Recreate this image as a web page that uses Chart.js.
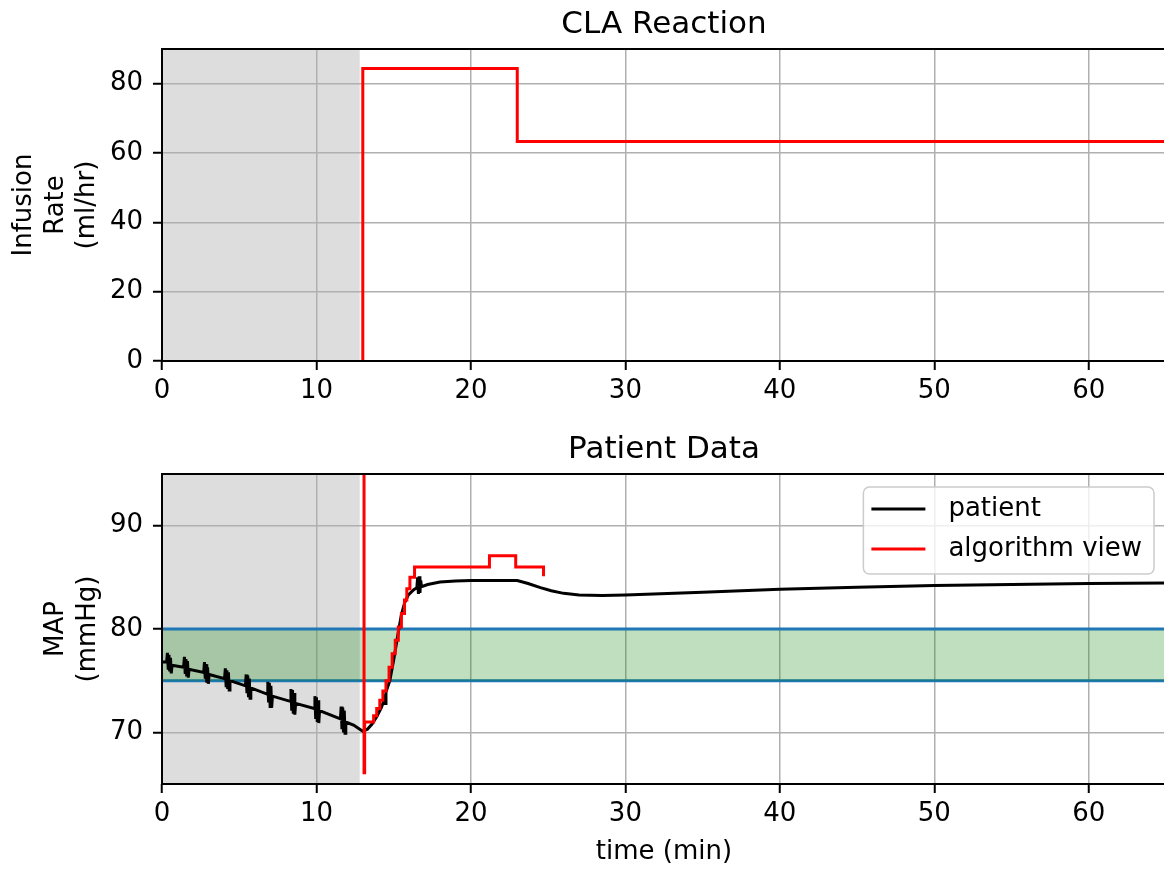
<!DOCTYPE html>
<html>
<head>
<meta charset="utf-8">
<title>CLA Reaction</title>
<script src="https://cdn.jsdelivr.net/npm/chart.js@4.4.1/dist/chart.umd.min.js"></script>
<style>
    html, body { margin: 0; padding: 0; background: #fff; overflow: hidden; }
    #wrap { position: relative; width: 1164px; height: 871px; overflow: hidden; }
    canvas { position: absolute; left: 0; }
    #rateChart { top: 0; }
    #mapChart { top: 430px; }
</style>
</head>
<body>
<div id="wrap">
    <canvas id="rateChart" width="1200" height="430"></canvas>
    <canvas id="mapChart" width="1200" height="441"></canvas>
</div>
<script>

// ------------------------------
// Data
// ------------------------------

// shared time axis (min)
const timeTicks = [0, 10, 20, 30, 40, 50, 60];
const timeRange = [0, 65];

// grey window before the controller kicks in
const baselineWindow = [0, 12.8];

// top panel: infusion rate (ml/hr)
const infusionTime = [13, 13, 23, 65];
const infusionRate = [0, 84.4, 63.3, 63.3];
const rateTicks = [0, 20, 40, 60, 80];
const rateRange = [0, 90];

// bottom panel: MAP (mmHg)
const patientTime = [
    0.00, 0.30, 0.35, 0.40, 0.45, 0.50, 0.55, 0.60, 0.65,
    1.40, 1.45, 1.50, 1.55, 1.60, 1.65, 1.70, 1.75,
    2.70, 2.75, 2.80, 2.85, 2.90, 2.95, 3.00, 3.05,
    4.05, 4.10, 4.15, 4.20, 4.25, 4.30, 4.35, 4.40,
    5.40, 5.45, 5.50, 5.55, 5.60, 5.65, 5.70, 5.75,
    6.80, 6.85, 6.90, 6.95, 7.00, 7.05, 7.10, 7.15,
    8.30, 8.35, 8.40, 8.45, 8.50, 8.55, 8.60, 8.65,
    9.85, 9.90, 9.95, 10.00, 10.05, 10.10, 10.15, 10.20,
    11.55, 11.60, 11.65, 11.70, 11.75, 11.80, 11.85, 11.90,
    12.40, 13.00, 13.30, 13.60, 13.90, 14.20, 14.35, 14.40, 14.45, 14.50,
    14.75, 15.00, 15.30, 15.50, 15.70, 15.95, 16.30,
    16.50, 16.55, 16.60, 16.65, 16.70, 16.75, 16.80,
    17.20, 18.00, 19.00, 20.00, 23.00, 23.70, 24.50, 25.20, 26.00, 27.00,
    28.50, 30.00, 35.00, 40.00, 45.00, 50.00, 55.00, 60.00, 65.00
];
const patientMap = [
    76.8, 76.8, 77.7, 76.2, 77.5, 75.9, 77.2, 75.7, 76.5,
    76.3, 77.3, 75.8, 77.1, 75.4, 76.9, 75.3, 76.1,
    75.8, 76.8, 75.2, 76.6, 74.8, 76.3, 74.7, 75.6,
    75.2, 76.2, 74.5, 76.0, 74.2, 75.8, 74.1, 75.0,
    74.5, 75.6, 73.8, 75.5, 73.4, 75.2, 73.3, 74.3,
    73.7, 74.9, 72.9, 74.8, 72.5, 74.5, 72.4, 73.5,
    73.0, 74.2, 72.1, 74.1, 71.8, 73.8, 71.7, 72.8,
    72.3, 73.5, 71.3, 73.4, 71.0, 73.1, 70.9, 72.1,
    71.3, 72.5, 70.3, 72.4, 70.0, 72.1, 69.9, 71.0,
    70.7, 70.1, 70.3, 70.8, 71.5, 72.4, 73.0, 73.7, 72.8, 73.9,
    75.0, 77.0, 79.7, 81.4, 82.5, 83.3, 83.8,
    84.0, 85.0, 83.4, 85.1, 83.5, 84.7, 84.1,
    84.3, 84.55, 84.65, 84.7, 84.7, 84.4, 84.0, 83.7, 83.45, 83.3,
    83.25, 83.3, 83.55, 83.85, 84.05, 84.2, 84.3, 84.4, 84.45
];

const algorithmTime = [13.08, 13.08, 13.12, 13.7, 13.9, 14.1, 14.3, 14.5, 14.7, 14.9,
    15.1, 15.3, 15.5, 15.7, 15.85, 16.05, 16.35, 21.2, 22.9, 24.7];
const algorithmMap = [100, 66.1, 71.0, 71.6, 72.3, 73.1, 74.0, 75.0, 76.3, 77.6,
    78.9, 80.2, 81.5, 82.8, 83.9, 85.0, 86.0, 87.1, 86.0, 85.1];

const targetBand = [75, 80];
const mapTicks = [70, 80, 90];
const mapRange = [65, 95];


// ------------------------------
// Helpers
// ------------------------------

Chart.defaults.font.family = "'DejaVu Sans', sans-serif";
Chart.defaults.font.size = 26;
Chart.defaults.color = "#000";

const toPoints = (xs, ys) => xs.map((x, i) => ({ x: x, y: ys[i] }));

const gridStyle = {
    color: "#b0b0b0",
    lineWidth: 1.5,
    tickColor: "#000",
    tickLength: 9,
    tickWidth: 2
};

function timeScale(height, showTitle) {
    return {
        type: "linear",
        min: timeRange[0],
        max: timeRange[1],
        afterBuildTicks: (s) => { s.ticks = timeTicks.map(v => ({ value: v })); },
        afterFit: (s) => { s.height = height; },
        grid: gridStyle,
        border: { display: false },
        ticks: { padding: 6, maxRotation: 0, autoSkip: false },
        title: {
            display: showTitle,
            text: "time (min)",
            padding: { top: 0, bottom: 3 }
        }
    };
}

function valueScale(range, tickValues, titleLines, titlePad) {
    return {
        min: range[0],
        max: range[1],
        afterBuildTicks: (s) => { s.ticks = tickValues.map(v => ({ value: v })); },
        afterFit: (s) => { s.width = 162; },
        grid: gridStyle,
        border: { display: false },
        ticks: { padding: 10 },
        title: {
            display: true,
            text: titleLines,
            padding: { top: titlePad, bottom: 0 }
        }
    };
}

// grey span, drawn before the grid so the grid shows through
const greyWindow = {
    id: "greyWindow",
    beforeDraw(chart) {
        const { ctx, chartArea, scales } = chart;
        const x0 = scales.x.getPixelForValue(baselineWindow[0]);
        const x1 = scales.x.getPixelForValue(baselineWindow[1]);
        ctx.save();
        ctx.fillStyle = "rgba(128,128,128,0.27)";
        ctx.fillRect(x0, chartArea.top, x1 - x0, chartArea.bottom - chartArea.top);
        ctx.restore();
    }
};

// axes frame + panel title
const frameAndTitle = {
    id: "frameAndTitle",
    afterDatasetsDraw(chart, args, opts) {
        const { ctx, chartArea } = chart;
        ctx.save();
        ctx.strokeStyle = "#000";
        ctx.lineWidth = 2;
        ctx.strokeRect(chartArea.left, chartArea.top,
            chartArea.right - chartArea.left, chartArea.bottom - chartArea.top);
        ctx.font = "31px 'DejaVu Sans'";
        ctx.fillStyle = "#000";
        ctx.textAlign = "center";
        ctx.textBaseline = "alphabetic";
        ctx.fillText(opts.text, (chartArea.left + chartArea.right) / 2, chartArea.top - 16);
        ctx.restore();
    }
};

// matplotlib-like legend in the upper right
const lineLegend = {
    id: "lineLegend",
    afterDraw(chart) {
        const { ctx, chartArea } = chart;
        const items = chart.data.datasets.filter(d => d.label);
        ctx.save();
        ctx.font = "26px 'DejaVu Sans'";
        const textW = Math.max(...items.map(d => ctx.measureText(d.label).width));
        const w = 10 + 54 + 21 + textW + 12;
        const h = 87;
        const left = chartArea.right - 12 - w;
        const top = chartArea.top + 13;
        ctx.beginPath();
        ctx.roundRect(left, top, w, h, 6);
        ctx.fillStyle = "rgba(255,255,255,0.8)";
        ctx.fill();
        ctx.strokeStyle = "#cccccc";
        ctx.lineWidth = 1.5;
        ctx.stroke();
        items.forEach((d, i) => {
            const y = top + 22 + i * 40;
            ctx.beginPath();
            ctx.moveTo(left + 8, y);
            ctx.lineTo(left + 62, y);
            ctx.strokeStyle = d.borderColor;
            ctx.lineWidth = 3;
            ctx.stroke();
            ctx.fillStyle = "#000";
            ctx.textAlign = "left";
            ctx.textBaseline = "middle";
            ctx.fillText(d.label, left + 85, y);
        });
        ctx.restore();
    }
};


// ------------------------------
// CLA Reaction (infusion rate)
// ------------------------------

const rateChart = new Chart(document.getElementById("rateChart"), {

    type: "line",

    data: {
        datasets: [{
            data: toPoints(infusionTime, infusionRate),
            borderColor: "#ff0000",
            borderWidth: 3,
            stepped: "before",
            pointRadius: 0,
            fill: false
        }]
    },

    options: {
        responsive: false,
        animation: false,
        devicePixelRatio: 1,
        layout: { padding: { top: 49, right: 34, left: 0, bottom: 0 } },
        scales: {
            x: timeScale(69, false),
            y: valueScale(rateRange, rateTicks, ["Infusion", "Rate", "(ml/hr)"], 9)
        },
        plugins: {
            legend: { display: false },
            tooltip: { enabled: false },
            frameAndTitle: { text: "CLA Reaction" }
        }
    },

    plugins: [greyWindow, frameAndTitle]

});


// ------------------------------
// Patient Data (MAP)
// ------------------------------

const mapChart = new Chart(document.getElementById("mapChart"), {

    type: "line",

    data: {
        datasets: [
            {
                label: "patient",
                data: toPoints(patientTime, patientMap),
                borderColor: "#000000",
                borderWidth: 3,
                pointRadius: 0,
                fill: false,
                order: 1
            },
            {
                label: "algorithm view",
                data: toPoints(algorithmTime, algorithmMap),
                borderColor: "#ff0000",
                borderWidth: 3,
                stepped: "before",
                pointRadius: 0,
                fill: false,
                order: 0
            },
            {
                data: toPoints(timeRange, [targetBand[1], targetBand[1]]),
                borderColor: "#1f77b4",
                borderWidth: 3,
                pointRadius: 0,
                fill: "+1",
                backgroundColor: "rgba(0,128,0,0.25)",
                order: 2
            },
            {
                data: toPoints(timeRange, [targetBand[0], targetBand[0]]),
                borderColor: "#1f77b4",
                borderWidth: 3,
                pointRadius: 0,
                fill: false,
                order: 3
            }
        ]
    },

    options: {
        responsive: false,
        animation: false,
        devicePixelRatio: 1,
        layout: { padding: { top: 44, right: 34, left: 0, bottom: 0 } },
        scales: {
            x: timeScale(87, true),
            y: valueScale(mapRange, mapTicks, ["MAP", "(mmHg)"], 41)
        },
        plugins: {
            legend: { display: false },
            tooltip: { enabled: false },
            frameAndTitle: { text: "Patient Data" }
        }
    },

    plugins: [greyWindow, frameAndTitle, lineLegend]

});

</script>
</body>
</html>
